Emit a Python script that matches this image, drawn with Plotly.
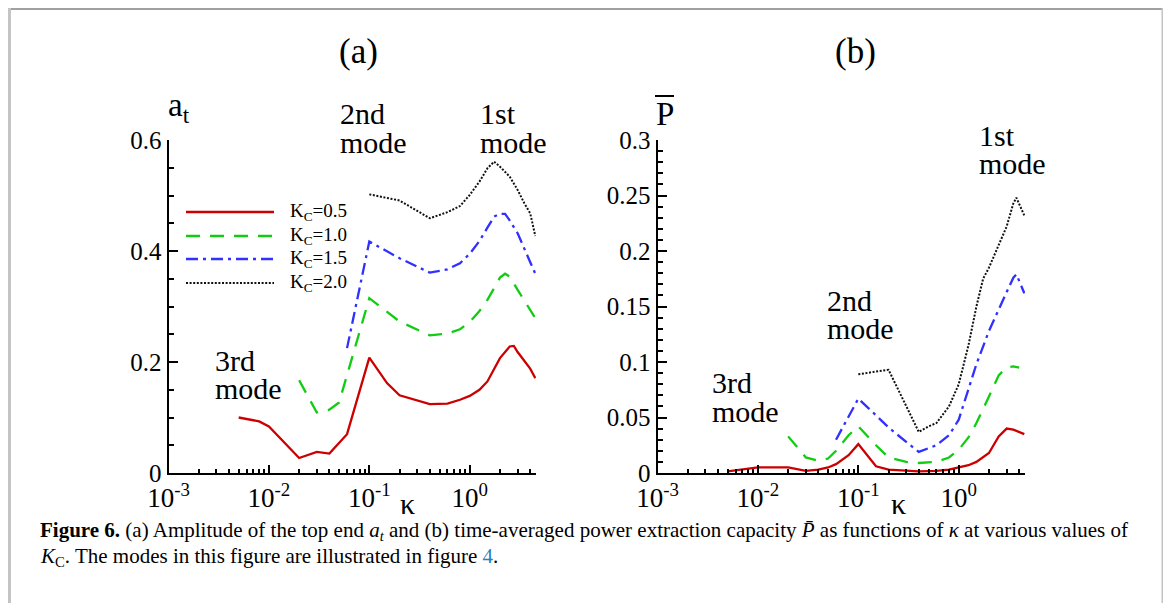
import plotly.graph_objects as go

W, H = 1171, 603
FONT = "Liberation Serif"
OFF = 8  # page body margin

# ---------------- data: panel (a) amplitude a_t ----------------
a_x_k05 = [0.005, 0.008, 0.01, 0.02, 0.03, 0.04, 0.06, 0.1, 0.15, 0.2, 0.4, 0.6, 0.8, 1.0, 1.25, 1.5, 2.0, 2.5, 2.75, 3.0, 4.0, 4.5]
a_y_k05 = [0.100, 0.093, 0.084, 0.027, 0.038, 0.035, 0.070, 0.208, 0.162, 0.140, 0.124, 0.125, 0.132, 0.139, 0.150, 0.165, 0.207, 0.228, 0.229, 0.218, 0.188, 0.171]

a_x_k10 = [0.02, 0.03, 0.04, 0.05, 0.1, 0.2, 0.4, 0.6, 0.8, 1.0, 1.25, 1.5, 1.75, 2.0, 2.25, 2.5, 3.0, 4.5]
a_y_k10 = [0.167, 0.109, 0.114, 0.127, 0.315, 0.273, 0.248, 0.251, 0.259, 0.272, 0.292, 0.312, 0.333, 0.352, 0.359, 0.354, 0.330, 0.279]

a_x_k15 = [0.06, 0.1, 0.2, 0.4, 0.6, 0.8, 1.0, 1.25, 1.5, 1.75, 2.0, 2.25, 2.5, 3.0, 4.5]
a_y_k15 = [0.225, 0.417, 0.387, 0.361, 0.367, 0.378, 0.395, 0.418, 0.442, 0.462, 0.467, 0.467, 0.455, 0.432, 0.359]

a_x_k20 = [0.1, 0.2, 0.4, 0.6, 0.8, 1.0, 1.25, 1.5, 1.75, 2.0, 2.5, 3.0, 3.5, 4.0, 4.5]
a_y_k20 = [0.502, 0.491, 0.459, 0.470, 0.481, 0.501, 0.525, 0.549, 0.561, 0.552, 0.534, 0.510, 0.486, 0.468, 0.427]

# ---------------- data: panel (b) mean power P ----------------
p_x_k05 = [0.005, 0.007, 0.01, 0.02, 0.03, 0.04, 0.05, 0.06, 0.08, 0.1, 0.15, 0.2, 0.4, 0.6, 0.8, 1.0, 1.25, 1.5, 2.0, 2.5, 3.0, 3.5, 4.0, 4.5]
p_y_k05 = [0.0015, 0.003, 0.005, 0.005, 0.002, 0.003, 0.005, 0.008, 0.016, 0.026, 0.006, 0.003, 0.0015, 0.002, 0.003, 0.005, 0.007, 0.010, 0.018, 0.033, 0.040, 0.039, 0.037, 0.035]

p_x_k10 = [0.02, 0.03, 0.04, 0.05, 0.06, 0.08, 0.1, 0.15, 0.2, 0.3, 0.4, 0.6, 0.8, 1.0, 1.25, 1.5, 2.0, 2.5, 3.0, 3.5, 4.0]
p_y_k10 = [0.033, 0.014, 0.011, 0.013, 0.020, 0.034, 0.042, 0.025, 0.014, 0.010, 0.009, 0.010, 0.014, 0.021, 0.032, 0.045, 0.069, 0.088, 0.095, 0.096, 0.095]

p_x_k15 = [0.06, 0.1, 0.15, 0.2, 0.3, 0.4, 0.6, 0.8, 1.0, 1.25, 1.5, 2.0, 2.5, 3.0, 3.5, 3.75, 4.5]
p_y_k15 = [0.030, 0.067, 0.052, 0.041, 0.028, 0.019, 0.025, 0.034, 0.048, 0.075, 0.098, 0.128, 0.148, 0.163, 0.176, 0.179, 0.162]

p_x_k20 = [0.1, 0.2, 0.4, 0.5, 0.6, 0.8, 1.0, 1.25, 1.5, 1.75, 2.0, 2.5, 3.0, 3.5, 3.75, 4.5]
p_y_k20 = [0.089, 0.093, 0.037, 0.042, 0.045, 0.060, 0.080, 0.115, 0.150, 0.175, 0.185, 0.205, 0.222, 0.243, 0.248, 0.232]

series_names = ["K<sub>C</sub>=0.5", "K<sub>C</sub>=1.0", "K<sub>C</sub>=1.5", "K<sub>C</sub>=2.0"]
x_tick_vals = [0.001, 0.01, 0.1, 1]
x_tick_text = ["10<sup>-3</sup>", "10<sup>-2</sup>", "10<sup>-1</sup>", "10<sup>0</sup>"]
a_tick_vals = [0, 0.2, 0.4, 0.6]
a_tick_text = ["0", "0.2", "0.4", "0.6"]
p_tick_vals = [0, 0.05, 0.1, 0.15, 0.2, 0.25, 0.3]
p_tick_text = ["0", "0.05", "0.1", "0.15", "0.2", "0.25", "0.3"]

# ---------------- styles ----------------
line_styles = [
    dict(color="#cc0000", width=2.3, dash="solid"),
    dict(color="#11cc11", width=2.3, dash="14px,10px"),
    dict(color="#3030ff", width=2.3, dash="12px,5px,3px,5px"),
    dict(color="#111111", width=2.0, dash="2px,1.6px"),
]


def px(x):
    return (x - OFF) / W


def py(y):
    return 1 - (y - OFF) / H


fig = go.Figure()
a_sets = [(a_x_k05, a_y_k05), (a_x_k10, a_y_k10), (a_x_k15, a_y_k15), (a_x_k20, a_y_k20)]
p_sets = [(p_x_k05, p_y_k05), (p_x_k10, p_y_k10), (p_x_k15, p_y_k15), (p_x_k20, p_y_k20)]
for (xs, ys), st, nm in zip(a_sets, line_styles, series_names):
    fig.add_trace(go.Scatter(x=xs, y=ys, mode="lines", line=st, name=nm,
                             xaxis="x", yaxis="y", showlegend=False))
for (xs, ys), st, nm in zip(p_sets, line_styles, series_names):
    fig.add_trace(go.Scatter(x=xs, y=ys, mode="lines", line=st, name=nm,
                             xaxis="x2", yaxis="y2", showlegend=False))

minor_x = [m * 10 ** e for e in (-3, -2, -1, 0) for m in range(2, 10) if m * 10 ** e < 4.6]

ytickfont = dict(family=FONT, size=25, color="black")
xtickfont = dict(family=FONT, size=27, color="black")
xcommon = dict(type="log", range=[-3, 0.66], showline=True, linecolor="black", linewidth=2,
               ticks="inside", ticklen=8, tickwidth=2, tickcolor="black",
               tickmode="array", tickvals=x_tick_vals, ticktext=x_tick_text,
               showgrid=False, zeroline=False, tickfont=xtickfont,
               minor=dict(ticks="inside", ticklen=4, tickwidth=1.5, tickcolor="black",
                          tickmode="array", tickvals=minor_x, showgrid=False))

yd = [py(473), py(140)]
fig.update_layout(
    width=W, height=H,
    margin=dict(l=0, r=0, t=0, b=0, autoexpand=False),
    paper_bgcolor="white", plot_bgcolor="white",
    showlegend=False,
    xaxis=dict(domain=[px(168.5), px(536)], anchor="y", **xcommon),
    xaxis2=dict(domain=[px(657.5), px(1025)], anchor="y2", **xcommon),
    yaxis=dict(domain=yd, anchor="x", range=[0, 0.6], showline=True, linecolor="black", linewidth=2,
               ticks="inside", ticklen=9, tickwidth=2, tickcolor="black",
               tickmode="array", tickvals=a_tick_vals, ticktext=a_tick_text,
               showgrid=False, zeroline=False, tickfont=ytickfont,
               minor=dict(ticks="inside", ticklen=5, tickwidth=1.5, tickcolor="black",
                          dtick=0.05, showgrid=False)),
    yaxis2=dict(domain=yd, anchor="x2", range=[0, 0.3], showline=True, linecolor="black", linewidth=2,
                ticks="inside", ticklen=9, tickwidth=2, tickcolor="black",
                tickmode="array", tickvals=p_tick_vals, ticktext=p_tick_text,
                showgrid=False, zeroline=False, tickfont=ytickfont,
                minor=dict(ticks="inside", ticklen=5, tickwidth=1.5, tickcolor="black",
                           dtick=0.01, showgrid=False)),
)

annotations = []


def text(x, y, s, size, anchor="left", color="black"):
    annotations.append(dict(xref="paper", yref="paper", x=px(x), y=py(y), text=s,
                            showarrow=False, xanchor=anchor, yanchor="middle",
                            font=dict(family=FONT, size=size, color=color)))


# panel titles
text(358, 51, "(a)", 35, "center")
text(855, 51, "(b)", 35, "center")
# axis titles
text(166, 107, "a<sub>t</sub>", 33)
text(654, 114, "P", 33)
text(407, 503, "κ", 30, "center")
text(898, 503, "κ", 30, "center")
# mode labels
mode_labels = [
    (338, 124, "2nd"), (478, 124, "1st"), (213, 370, "3rd"),
    (977, 145, "1st"), (825, 310, "2nd"), (710, 393, "3rd"),
]
for x0, base, s in mode_labels:
    text(x0, base - 10, s, 30)
    text(x0, base + 28 - 10, "mode", 30)

# legend (manual, long sample lines)
shapes = []
leg_y = [212, 236, 259, 283]
for st, nm, yy in zip(line_styles, series_names, leg_y):
    shapes.append(dict(type="line", xref="paper", yref="paper", x0=px(186), x1=px(274),
                       y0=py(yy), y1=py(yy), line=st))
    text(288, yy, nm, 19)

# overbar on P
shapes.append(dict(type="line", xref="paper", yref="paper", x0=px(655), x1=px(674),
                   y0=py(96), y1=py(96), line=dict(color="black", width=2)))

# caption
text(38, 531, "<b>Figure 6.</b> (a) Amplitude of the top end <i>a<sub>t</sub></i> and (b) time-averaged power "
     "extraction capacity <i>P̄</i> as functions of <i>κ</i> at various values of", 21)
text(38, 557, "<i>K</i><sub>C</sub>. The modes in this figure are illustrated in figure "
     "<span style='color:#2a7fc0'>4</span>.", 21)

# page frame
shapes.append(dict(type="line", xref="paper", yref="paper", x0=px(9), x1=px(1163.5),
                   y0=py(9), y1=py(9), line=dict(color="#a0a0a0", width=2)))
shapes.append(dict(type="line", xref="paper", yref="paper", x0=px(9.5), x1=px(9.5),
                   y0=py(8), y1=py(620), line=dict(color="#c4c4c4", width=3)))
shapes.append(dict(type="line", xref="paper", yref="paper", x0=px(1163), x1=px(1163),
                   y0=py(8), y1=py(620), line=dict(color="#c4c4c4", width=3)))

fig.update_layout(annotations=annotations, shapes=shapes)
fig.write_html("out.html")
